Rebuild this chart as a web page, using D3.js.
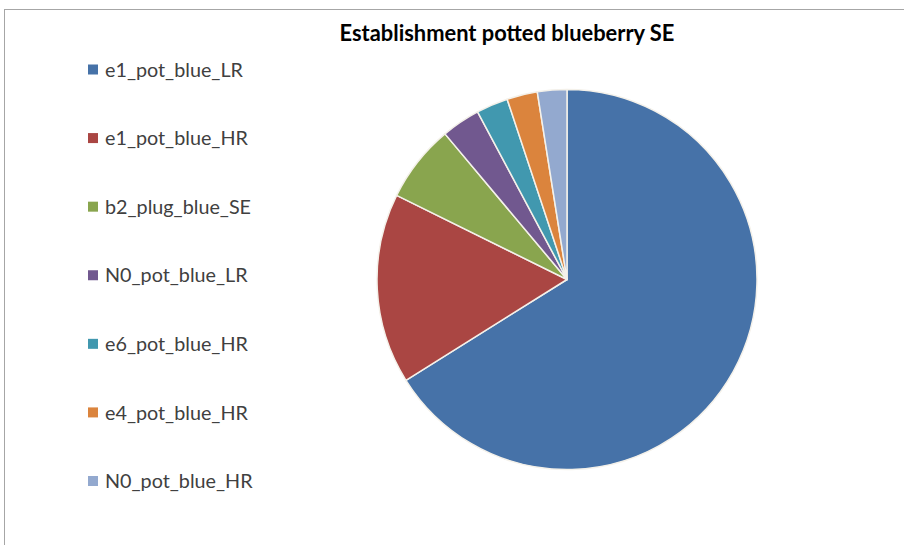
<!DOCTYPE html>
<html>
<head>
<meta charset="utf-8">
<script src="https://cdn.jsdelivr.net/npm/d3@7"></script>
<style>
  html, body { margin: 0; padding: 0; background: #fff; }
  svg { display: block; }
</style>
</head>
<body>
<svg id="chart" width="904" height="545"></svg>
<script>
const title = "Establishment potted blueberry SE";
const categories = ["e1_pot_blue_LR", "e1_pot_blue_HR", "b2_plug_blue_SE", "N0_pot_blue_LR", "e6_pot_blue_HR", "e4_pot_blue_HR", "N0_pot_blue_HR"];
const values = [66.1, 16.2, 6.6, 3.3, 2.7, 2.6, 2.5];
const colors = ["#4672a8", "#aa4643", "#89a54e", "#71588f", "#4198af", "#db843d", "#93a9cf"];

const svg = d3.select("#chart");
const W = 904, H = 545;

// chart frame
svg.append("rect").attr("x", 4.5).attr("y", 9.5).attr("width", W + 10).attr("height", H + 10)
  .attr("fill", "#fff").attr("stroke", "#a6a6a6").attr("stroke-width", 1);

// title
const t = svg.append("text").attr("x", 507).attr("y", 41).attr("text-anchor", "middle")
  .attr("font-family", "Lato, 'Open Sans', sans-serif").attr("font-weight", "bold")
  .attr("font-size", 18).attr("fill", "#000").text(title);
const tw = t.node().getComputedTextLength();
t.attr("font-size", 18 * 335 / tw);

// pie
const cx = 567, cy = 279.5, R = 190;
const pie = d3.pie().sort(null).value(d => d.v);
const arc = d3.arc().innerRadius(0).outerRadius(R);
const data = categories.map((c, i) => ({ c, v: values[i], col: colors[i] }));
const g = svg.append("g").attr("transform", `translate(${cx},${cy})`);
g.selectAll("path").data(pie(data)).join("path")
  .attr("d", arc)
  .attr("fill", d => d.data.col)
  .attr("stroke", "#f4f1ea").attr("stroke-width", 1.5).attr("stroke-linejoin", "round");

// legend
const ly = d3.scalePoint().domain(categories).range([69.5, 481]);
const lg = svg.append("g");
const items = lg.selectAll("g").data(data).join("g")
  .attr("transform", d => `translate(88,${ly(d.c)})`);
items.append("rect").attr("x", 0).attr("y", -5).attr("width", 10).attr("height", 10)
  .attr("fill", d => d.col);
const lt = items.append("text").attr("x", 17).attr("y", 0).attr("dy", "0.36em")
  .attr("font-family", "Lato, 'Open Sans', sans-serif").attr("font-size", 16)
  .attr("fill", "#404040").text(d => d.c);
const w0 = lt.nodes()[0].getComputedTextLength();
lt.attr("font-size", 16 * 138 / w0);
</script>
</body>
</html>
